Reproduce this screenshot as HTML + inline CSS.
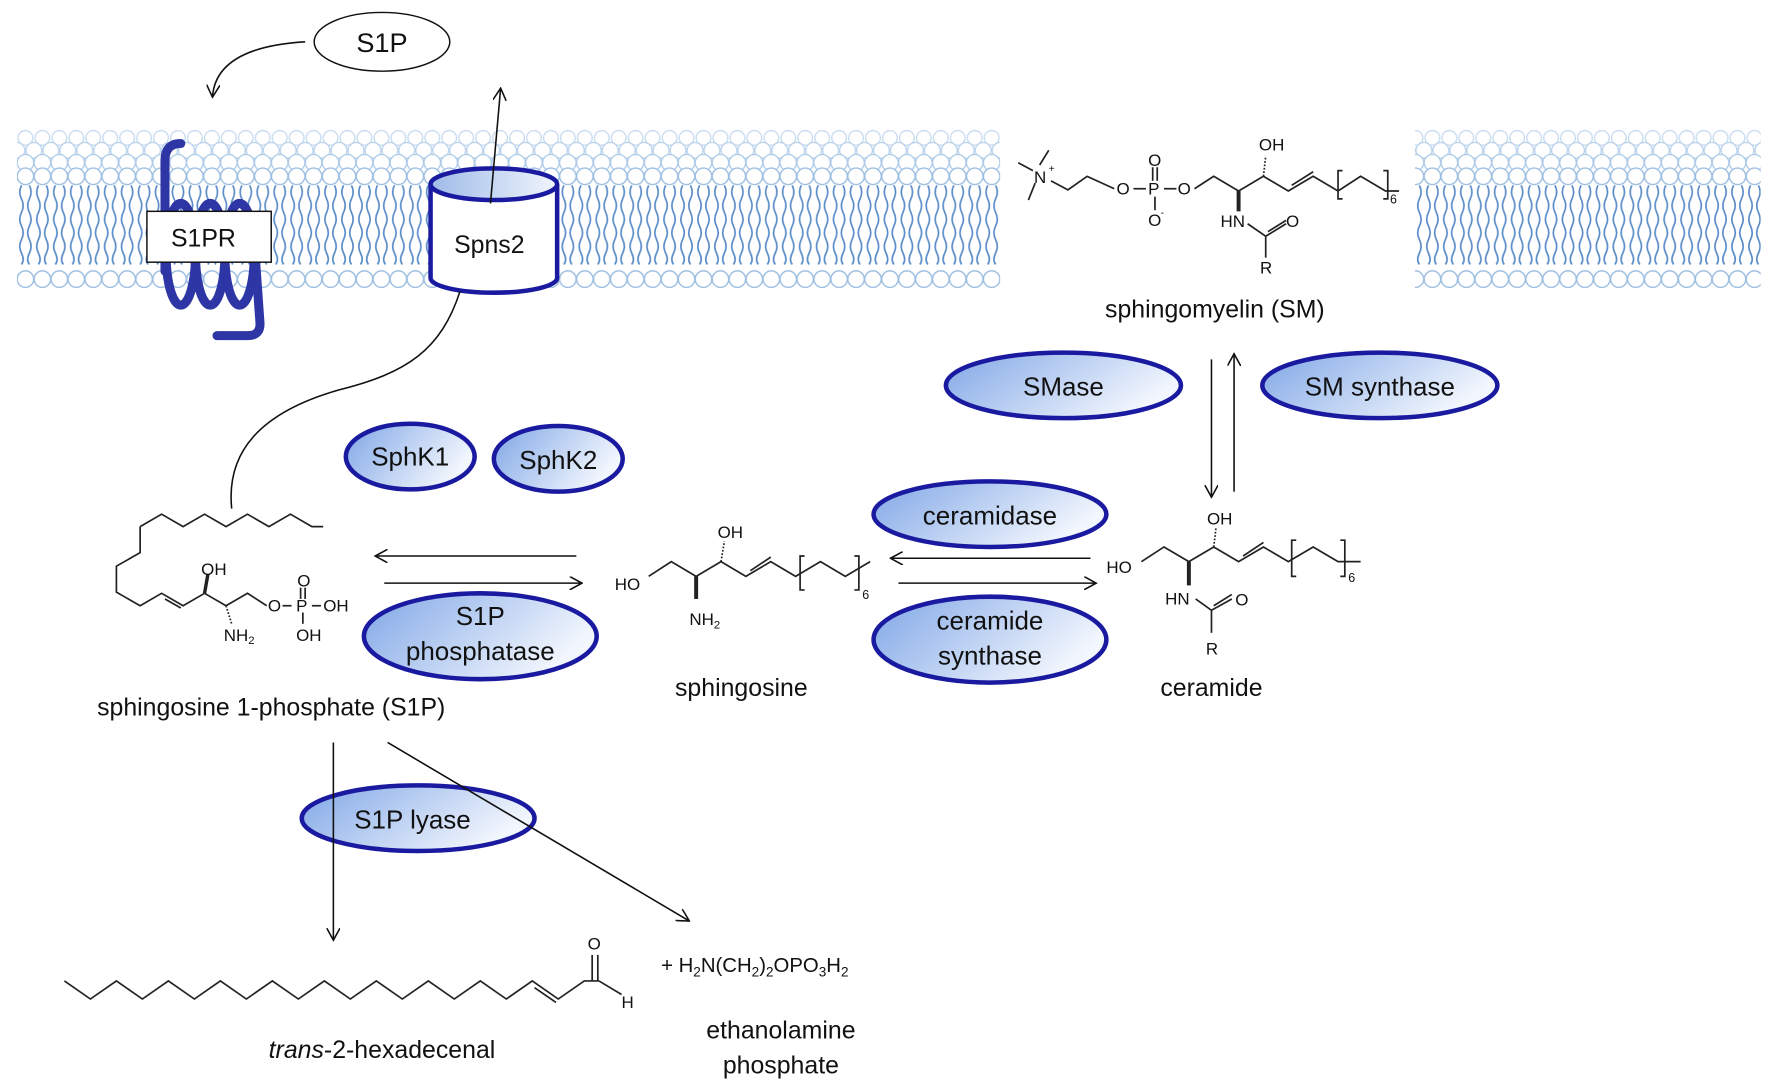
<!DOCTYPE html>
<html><head><meta charset="utf-8"><style>
html,body{margin:0;padding:0;background:#fff;}
svg{display:block;}
text{font-family:"Liberation Sans",sans-serif;fill:#111;}
</style></head><body>
<svg width="1772" height="1087" viewBox="0 0 1772 1087" xmlns="http://www.w3.org/2000/svg">
<defs>
<linearGradient id="eg" x1="0" y1="0" x2="1" y2="0.4">
<stop offset="0" stop-color="#7fa6e6"/><stop offset="1" stop-color="#f2f6fd"/>
</linearGradient>
<linearGradient id="cg" x1="0" y1="0" x2="1" y2="0">
<stop offset="0" stop-color="#9fbbe8"/><stop offset="1" stop-color="#f0f5fc"/>
</linearGradient>
<pattern id="mem" x="15" y="0" width="15" height="1087" patternUnits="userSpaceOnUse">
<circle cx="7.5" cy="122" r="6.5" fill="#fff" stroke="#c8dbef" stroke-width="1.2"/>
<circle cx="0" cy="133" r="7" fill="#fff" stroke="#bcd3ec" stroke-width="1.2"/>
<circle cx="15" cy="133" r="7" fill="#fff" stroke="#bcd3ec" stroke-width="1.2"/>
<circle cx="7.5" cy="144" r="7.3" fill="#fff" stroke="#aecbe8" stroke-width="1.2"/>
<circle cx="7.5" cy="156" r="7.3" fill="#fff" stroke="#9fc0e2" stroke-width="1.3"/>
<path d="M4,164 q-3,6 0,12 t0,12 t0,12 t0,12 t0,12 t0,10" fill="none" stroke="#5a8cc8" stroke-width="1.5"/>
<path d="M11,164 q3,6 0,12 t0,12 t0,12 t0,12 t0,12 t0,10" fill="none" stroke="#5a8cc8" stroke-width="1.5"/>
<circle cx="7.5" cy="247" r="7.3" fill="#fff" stroke="#9fc0e2" stroke-width="1.3"/>
</pattern>
<marker id="ah" viewBox="0 0 12 12" refX="11" refY="6" markerWidth="12" markerHeight="12" markerUnits="userSpaceOnUse" orient="auto">
<path d="M0,0 L11,6 L0,12" fill="none" stroke="#111" stroke-width="1.4"/>
</marker>
</defs>
<g transform="scale(1.1301)">
<rect x="15" y="114" width="870" height="142" fill="url(#mem)"/>
<rect x="1252" y="114" width="306" height="142" fill="url(#mem)"/>

<ellipse cx="338" cy="37" rx="60" ry="26" fill="#fff" stroke="#111" stroke-width="1.3"/>
<text x="338" y="46" font-size="24" text-anchor="middle">S1P</text>
<path d="M270,37 C220,40 190,55 188,86" fill="none" stroke="#111" stroke-width="1.4" marker-end="url(#ah)"/>

<!-- S1PR coil -->
<g fill="none" stroke="#2e36a6" stroke-width="8" stroke-linecap="round">
<path d="M160,127 Q146,127 146,142 L146,240"/>
<ellipse cx="160" cy="225" rx="13" ry="45"/>
<ellipse cx="186" cy="225" rx="13" ry="45"/>
<ellipse cx="212" cy="225" rx="13" ry="45"/>
<path d="M225,215 L230,285 Q231,297 219,297 L192,297"/>
</g>
<rect x="130" y="187" width="110" height="45" fill="#fff" stroke="#111" stroke-width="1.3"/>
<text x="180" y="218" font-size="22" text-anchor="middle">S1PR</text>

<path d="M381,163 L381,246 A56,13 0 0 0 493,246 L493,163" fill="#fff" stroke="#1a1aa0" stroke-width="4"/>
<ellipse cx="437" cy="163" rx="56" ry="14" fill="url(#cg)" stroke="#1a1aa0" stroke-width="4"/>
<text x="433" y="224" font-size="22" text-anchor="middle">Spns2</text>
<path d="M434,180 L443,78" fill="none" stroke="#111" stroke-width="1.4" marker-end="url(#ah)"/>
<path d="M407,258 C390,310 360,330 300,345 C230,365 200,400 205,450" fill="none" stroke="#111" stroke-width="1.4"/>

<g stroke="#1a1aa0" stroke-width="4" fill="url(#eg)">
<ellipse cx="363" cy="404" rx="57" ry="29"/>
<ellipse cx="494" cy="406" rx="57" ry="29"/>
<ellipse cx="425" cy="563" rx="103" ry="38"/>
<ellipse cx="941" cy="341" rx="104" ry="29"/>
<ellipse cx="1221" cy="341" rx="104" ry="29"/>
<ellipse cx="876" cy="455" rx="103" ry="29"/>
<ellipse cx="876" cy="566" rx="103" ry="38"/>
<ellipse cx="370" cy="724" rx="103" ry="29"/>
</g>
<g font-size="23" text-anchor="middle">
<text x="363" y="412">SphK1</text>
<text x="494" y="415">SphK2</text>
<text x="425" y="553">S1P</text>
<text x="425" y="584">phosphatase</text>
<text x="941" y="350">SMase</text>
<text x="1221" y="350">SM synthase</text>
<text x="876" y="464">ceramidase</text>
<text x="876" y="557">ceramide</text>
<text x="876" y="588">synthase</text>
<text x="365" y="733">S1P lyase</text>
</g>

<g stroke="#111" stroke-width="1.4" fill="none" marker-end="url(#ah)">
<path d="M510,492 L332,492"/>
<path d="M340,516 L515,516"/>
<path d="M965,494 L788,494"/>
<path d="M795,516 L970,516"/>
<path d="M1072,318 L1072,440"/>
<path d="M1092,435 L1092,313"/>
<path d="M295,657 L295,832"/>
<path d="M343,657 L610,815"/>
</g>

<g font-size="22" text-anchor="middle">
<text x="1075" y="281">sphingomyelin (SM)</text>
<text x="240" y="633">sphingosine 1-phosphate (S1P)</text>
<text x="656" y="616">sphingosine</text>
<text x="1072" y="616">ceramide</text>
<text x="338" y="936"><tspan font-style="italic">trans</tspan>-2-hexadecenal</text>
<text x="691" y="919">ethanolamine</text>
<text x="691" y="950">phosphate</text>
</g>
<text x="585" y="860" font-size="18">+  H<tspan font-size="12" dy="4">2</tspan><tspan dy="-4">N(CH</tspan><tspan font-size="12" dy="4">2</tspan><tspan dy="-4">)</tspan><tspan font-size="12" dy="4">2</tspan><tspan dy="-4">OPO</tspan><tspan font-size="12" dy="4">3</tspan><tspan dy="-4">H</tspan><tspan font-size="12" dy="4">2</tspan></text>

<g stroke="#222" stroke-width="1.5" fill="none">
<polyline points="124,466 143,455 162,466 181,455 200,466 219,455 238,466 257,455 276,466 286,466"/>
<polyline points="124,466 124,489 103,501 103,524 124,536 143,525 162,536 181,525 200,536 219,525 236,536"/>
<line x1="146" y1="530" x2="160" y2="538"/>
<line x1="181" y1="525" x2="184" y2="508" stroke-width="3"/>
<line x1="200" y1="536" x2="205" y2="552" stroke-dasharray="1.5,1.5"/>
<line x1="250" y1="536" x2="258" y2="536"/><line x1="276" y1="536" x2="284" y2="536"/>
<line x1="266" y1="520" x2="266" y2="530"/><line x1="270" y1="520" x2="270" y2="530"/>
<line x1="268" y1="542" x2="268" y2="552"/>
<polyline points="57,868 80,884 103,868 126,884 149,868 172,884 195,868 218,884 241,868 264,884 287,868 310,884 333,868 356,884 379,868 402,884 425,868 448,884 471,868 494,884 517,868 530,868"/>
<line x1="473" y1="874" x2="492" y2="887"/>
<line x1="524" y1="845" x2="524" y2="868"/><line x1="529" y1="845" x2="529" y2="868"/>
<line x1="530" y1="868" x2="550" y2="880"/>
<polyline points="574,510 594,497 616,510 638,497 660,510 682,497 704,510 726,497 748,510 770,497"/>
<line x1="664" y1="505" x2="682" y2="493"/>
<path d="M712,492 L708,492 L708,522 L712,522 M756,492 L760,492 L760,522 L756,522"/>
<line x1="616" y1="510" x2="616" y2="530" stroke-width="3.5"/>
<line x1="638" y1="497" x2="641" y2="479" stroke-dasharray="1.5,1.5"/>
<polyline points="1010,497 1030,484 1052,497 1074,484 1096,497 1118,484 1140,497 1162,484 1184,497 1204,497"/>
<line x1="1100" y1="492" x2="1118" y2="480"/>
<path d="M1147,478 L1143,478 L1143,510 L1147,510 M1186,478 L1190,478 L1190,510 L1186,510"/>
<line x1="1052" y1="497" x2="1052" y2="518" stroke-width="3.5"/>
<line x1="1074" y1="484" x2="1076" y2="467" stroke-dasharray="1.5,1.5"/>
<polyline points="1058,530 1072,540 1090,530"/><line x1="1074" y1="536" x2="1090" y2="526"/>
<line x1="1072" y1="540" x2="1072" y2="560"/>
<line x1="901" y1="144" x2="914" y2="151"/><line x1="920" y1="146" x2="928" y2="133"/>
<line x1="916" y1="162" x2="910" y2="177"/>
<polyline points="930,160 945,168 962,156 986,167"/>
<line x1="1003" y1="167" x2="1014" y2="167"/><line x1="1030" y1="167" x2="1041" y2="167"/>
<line x1="1020" y1="148" x2="1020" y2="160"/><line x1="1024" y1="148" x2="1024" y2="160"/>
<line x1="1022" y1="174" x2="1022" y2="186"/>
<polyline points="1057,167 1074,156 1096,169 1118,156 1140,169 1162,156 1184,169 1204,156 1226,169 1238,169"/>
<line x1="1143" y1="164" x2="1162" y2="152"/>
<path d="M1188,151 L1184,151 L1184,176 L1188,176 M1224,151 L1228,151 L1228,176 L1224,176"/>
<line x1="1096" y1="169" x2="1096" y2="187" stroke-width="3.5"/>
<line x1="1118" y1="156" x2="1120" y2="138" stroke-dasharray="1.5,1.5"/>
<polyline points="1104,198 1120,209 1138,198"/><line x1="1122" y1="205" x2="1138" y2="195"/>
<line x1="1120" y1="209" x2="1120" y2="228"/>
</g>
<g font-size="15">
<text x="178" y="509">OH</text>
<text x="198" y="567">NH<tspan font-size="10" dy="3">2</tspan></text>
<text x="237" y="541">O</text><text x="262" y="541">P</text><text x="286" y="541">OH</text>
<text x="263" y="519">O</text><text x="262" y="567">OH</text>
<text x="520" y="840">O</text><text x="550" y="892">H</text>
<text x="544" y="522">HO</text><text x="635" y="476">OH</text>
<text x="610" y="553">NH<tspan font-size="10" dy="3">2</tspan></text>
<text x="763" y="530" font-size="11">6</text>
<text x="979" y="507">HO</text><text x="1068" y="464">OH</text>
<text x="1031" y="535">HN</text><text x="1093" y="536">O</text><text x="1067" y="579">R</text>
<text x="1193" y="515" font-size="11">6</text>
<text x="915" y="162">N</text><text x="928" y="152" font-size="9">+</text>
<text x="988" y="172">O</text><text x="1016" y="172">P</text><text x="1042" y="172">O</text>
<text x="1016" y="147">O</text><text x="1016" y="200">O</text><text x="1027" y="191" font-size="9">-</text>
<text x="1114" y="133">OH</text><text x="1080" y="201">HN</text><text x="1138" y="201">O</text>
<text x="1115" y="242">R</text><text x="1230" y="180" font-size="11">6</text>
</g>
</g>
</svg>
</body></html>
